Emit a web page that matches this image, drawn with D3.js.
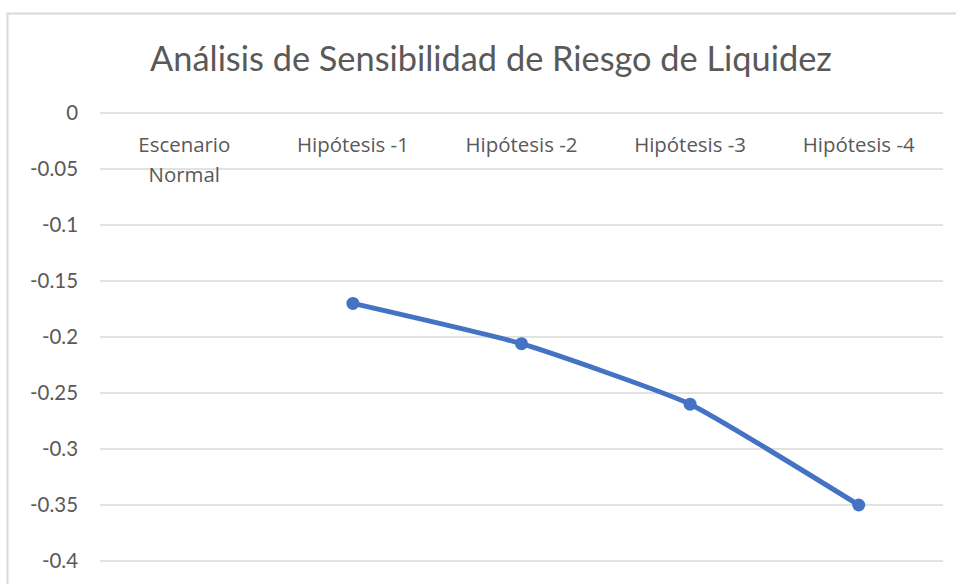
<!DOCTYPE html>
<html><head><meta charset="utf-8">
<script src="https://cdn.jsdelivr.net/npm/d3@7"></script>
<style>body{margin:0;background:#fff;} svg{display:block;font-family:"Open Sans",Lato,sans-serif;}</style>
</head><body>
<svg id="c" width="956" height="584"></svg>
<script>
const title = "Análisis de Sensibilidad de Riesgo de Liquidez";
const categories = ["Escenario Normal", "Hipótesis -1", "Hipótesis -2", "Hipótesis -3", "Hipótesis -4"];
const categoryLines = [["Escenario", "Normal"], ["Hipótesis -1"], ["Hipótesis -2"], ["Hipótesis -3"], ["Hipótesis -4"]];
const values = [null, -0.17, -0.206, -0.26, -0.35];
const yTicks = [0, -0.05, -0.1, -0.15, -0.2, -0.25, -0.3, -0.35, -0.4];

const svg = d3.select("#c");
const plot = {left: 100, right: 943, top: 113, bottom: 561};

function fitSize(text, family, base, target) {
  const tmp = svg.append("text").attr("font-family", family).attr("font-size", base).text(text);
  const w = tmp.node().getComputedTextLength();
  tmp.remove();
  return base * target / w;
}

// chart border
svg.append("rect").attr("x", 7.5).attr("y", 13.5).attr("width", 960).attr("height", 600)
  .attr("fill", "#fff").attr("stroke", "#d9d9d9").attr("stroke-width", 2);

const x = d3.scaleBand().domain(categories).range([plot.left, plot.right]);
const y = d3.scaleLinear().domain([-0.4, 0]).range([plot.bottom, plot.top]);

// title
const titleSize = fitSize(title, "Lato, sans-serif", 28, 682);
svg.append("text").attr("x", 491).attr("y", 71).attr("text-anchor", "middle")
  .attr("fill", "#595959").attr("font-family", "Lato, sans-serif").attr("font-size", titleSize).text(title);

// gridlines
svg.append("g").selectAll("line").data(yTicks).join("line")
  .attr("x1", plot.left).attr("x2", plot.right)
  .attr("y1", d => y(d)).attr("y2", d => y(d))
  .attr("stroke", "#d9d9d9").attr("stroke-width", 1.5);

// y axis labels
const ySize = fitSize("-0.05", "Lato, sans-serif", 18, 48);
const yAxis = d3.axisLeft(y).tickValues(yTicks).tickSize(0).tickPadding(0)
  .tickFormat(d => d === 0 ? "0" : String(d));
const ya = svg.append("g").attr("transform", `translate(${plot.left - 22},0)`).call(yAxis);
ya.select(".domain").remove();
ya.selectAll("text").attr("fill", "#595959").attr("font-size", ySize)
  .attr("font-family", "Lato, sans-serif").attr("dy", "0.34em");

// category labels (at top)
const cSize = fitSize("Hipótesis -1", "'Open Sans', sans-serif", 18, 112);
const cg = svg.append("g");
categories.forEach((c, i) => {
  const cx = x(c) + x.bandwidth() / 2;
  const tx = cg.append("text").attr("x", cx).attr("y", 152)
    .attr("text-anchor", "middle").attr("fill", "#595959")
    .attr("font-family", "'Open Sans', sans-serif").attr("font-size", cSize);
  categoryLines[i].forEach((ln, j) => {
    tx.append("tspan").attr("x", cx).attr("dy", j === 0 ? 0 : 30).text(ln);
  });
});

// line
const pts = categories.map((c, i) => ({c, v: values[i]})).filter(d => d.v !== null);
const line = d3.line().x(d => x(d.c) + x.bandwidth() / 2).y(d => y(d.v)).curve(d3.curveCardinal.tension(0.55));
svg.append("path").datum(pts).attr("d", line).attr("fill", "none")
  .attr("stroke", "#4472C4").attr("stroke-width", 5).attr("stroke-linecap", "round");
svg.append("g").selectAll("circle").data(pts).join("circle")
  .attr("cx", d => x(d.c) + x.bandwidth() / 2).attr("cy", d => y(d.v)).attr("r", 6.5)
  .attr("fill", "#4472C4");
</script>
</body></html>
